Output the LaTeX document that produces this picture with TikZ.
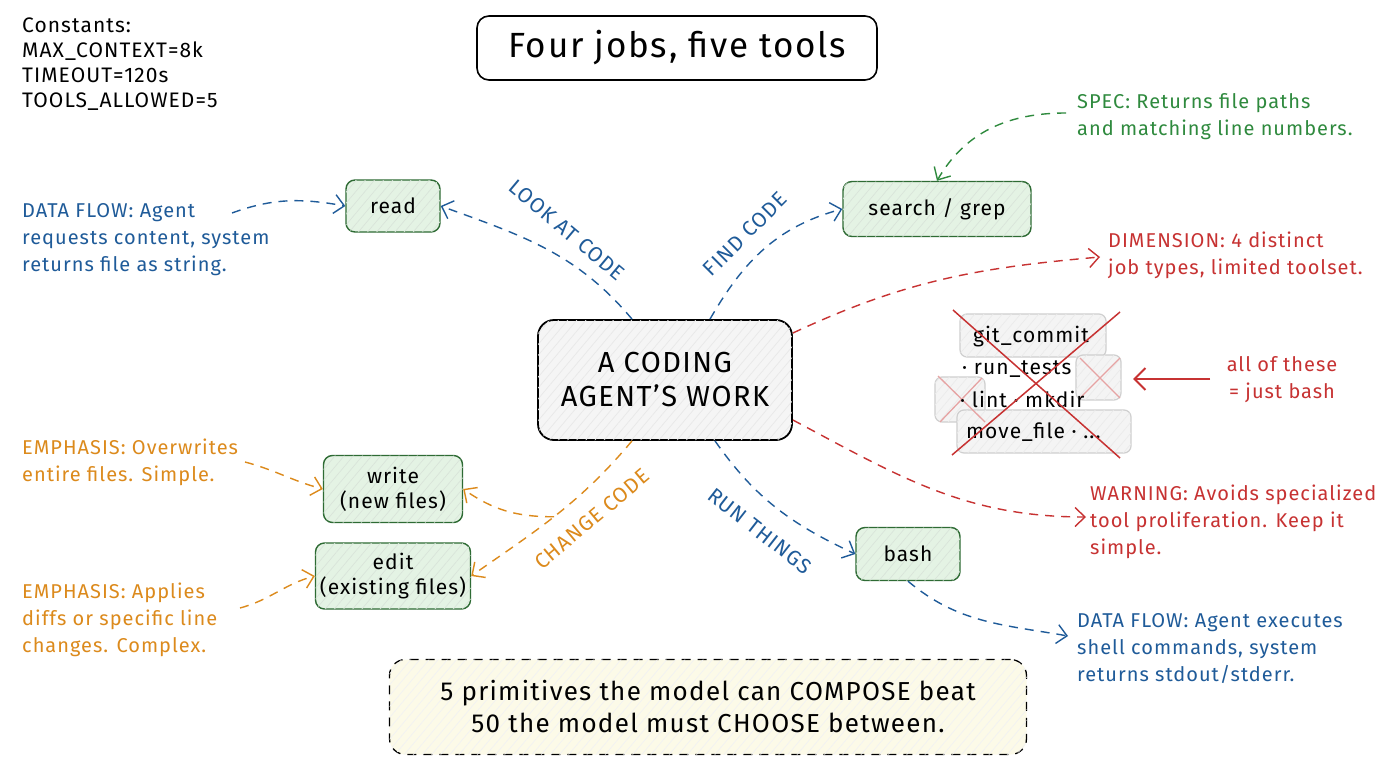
\documentclass[tikz,border=0pt]{standalone}
\usepackage{fontspec}
\setmainfont{Fira Sans}[LetterSpace=5]
\usetikzlibrary{arrows.meta,calc,patterns.meta}
\definecolor{cblue}{HTML}{1F5B99}
\definecolor{cgreen}{HTML}{2F8A3E}
\definecolor{cgreenD}{HTML}{2E6B34}
\definecolor{cgreenF}{HTML}{E4F3E4}
\definecolor{cred}{HTML}{C73232}
\definecolor{corange}{HTML}{DC8A1C}
\definecolor{cgrayB}{HTML}{CFCFCF}
\definecolor{cgrayF}{HTML}{F4F4F4}
\definecolor{cyel}{HTML}{FCFAE8}
\newcommand{\fsz}[2]{\fontsize{#1}{#2}\selectfont}
\tikzset{
  hatch/.style={postaction={pattern={Lines[angle=50,distance=7pt,line width=0.7pt]}, pattern color=#1}},
  tool/.style={draw=cgreenD, fill=cgreenF, line width=1.4pt, rounded corners=9pt,
    align=center, font=\fsz{21}{25}, inner sep=0pt, hatch=cgreenD!18},
  note/.style={align=left, anchor=west, inner sep=0pt, font=\fsz{20}{27}},
  dsh/.style={dash pattern=on 9pt off 7pt},
  conn/.style={dsh, line width=1.4pt, -{Straight Barb[length=10pt,width=19pt]}},
  lab/.style={font=\fsz{21}{24}, inner sep=0pt},
  ghost/.style={draw=cgrayB, fill=cgrayF, line width=1.2pt, rounded corners=7pt, hatch=black!8},
  gtext/.style={font=\fsz{21}{25}, inner sep=0pt, anchor=west},
}
\begin{document}
\begin{tikzpicture}[x=1pt,y=1pt]
\useasboundingbox (0,0) rectangle (1376,-768);
\fill[white] (0,0) rectangle (1376,-768);

% constants
\node[note, font=\fsz{21}{25}] (consts) at (22,-64) {Constants:\\MAX\_CONTEXT=8k\\TIMEOUT=120s\\TOOLS\_ALLOWED=5};

% title
\node[draw, line width=1.6pt, rounded corners=12pt, fill=white, minimum width=400pt,
  minimum height=64pt, font=\fsz{35}{40}] (title) at (677,-48) {Four jobs, five tools};

% core
\node[draw=black, line width=1.8pt, fill=black!4, rounded corners=16pt, minimum width=254pt,
  minimum height=120pt, align=center, font=\fsz{29}{34}, hatch=black!9] (core) at (665,-380) {A CODING\\AGENT'S WORK};

% tools
\node[tool, minimum width=94pt, minimum height=52pt] (read) at (393,-206) {read};
\node[tool, minimum width=188pt, minimum height=55pt] (search) at (937,-209) {search / grep};
\node[tool, minimum width=139pt, minimum height=67pt] (write) at (393,-489) {write\\(new files)};
\node[tool, minimum width=155pt, minimum height=66pt] (edit) at (393,-576) {edit\\(existing files)};
\node[tool, minimum width=104pt, minimum height=53pt] (bash) at (908,-554) {bash};

% crossed-out group
\draw[ghost] (960,-314) rectangle (1106,-357);
\draw[ghost] (1076,-355) rectangle (1121,-400);
\draw[ghost] (935,-377) rectangle (985,-422);
\draw[ghost] (957,-410) rectangle (1131,-453);
\draw[cred!45, line width=1.3pt] (1080,-358) -- (1120,-398) (1120,-358) -- (1080,-398);
\draw[cred!45, line width=1.3pt] (938,-376) -- (985,-422) (982,-378) -- (940,-422);
\node[gtext] (g1) at (973,-337) {git\_commit};
\node[gtext] (g2) at (962,-369) {· run\_tests};
\node[gtext] (g3) at (960,-399) {· lint · mkdir};
\node[gtext] (g4) at (966,-432) {move\_file · ...};
\coordinate (grp) at (1133,-379);
\draw[cred, line width=1.5pt] (953,-310) -- (1120,-458) (1120,-312) -- (952,-455);

% notes
\node[note, text=cblue] (dfread) at (22,-240) {DATA FLOW: Agent\\requests content, system\\returns file as string.};
\node[note, text=cgreen] (spec) at (1077,-117) {SPEC: Returns file paths\\and matching line numbers.};
\node[note, text=cred] (dim) at (1108,-255) {DIMENSION: 4 distinct\\job types, limited toolset.};
\node[note, text=cred] (warn) at (1090,-522) {WARNING: Avoids specialized\\tool proliferation. Keep it\\simple.};
\node[note, text=corange] (emw) at (22,-462) {EMPHASIS: Overwrites\\entire files. Simple.};
\node[note, text=corange] (eme) at (22,-620) {EMPHASIS: Applies\\diffs or specific line\\changes. Complex.};
\node[note, text=cblue] (dfbash) at (1077,-649) {DATA FLOW: Agent executes\\shell commands, system\\returns stdout/stderr.};
\node[note, text=cred, align=center, anchor=center] (allb) at (1282,-380) {all of these\\= just bash};

% bottom box
\node[draw, dsh, line width=1.3pt, rounded corners=16pt, fill=cyel, minimum width=637pt,
  minimum height=95pt, align=center, font=\fsz{26}{32}, hatch=black!5] (moral) at (708,-707)
  {5 primitives the model can COMPOSE beat\\50 the model must CHOOSE between.};

% free ends
\coordinate (dfreadS) at (232,-213);
\coordinate (specS) at (1066,-113);
\coordinate (dimE) at (1100,-257);
\coordinate (warnE) at (1086,-517);
\coordinate (dfbashE) at (1068,-636);
\coordinate (emwS) at (245,-462);
\coordinate (emeS) at (240,-608);
\coordinate (allS) at (1210,-379);

% connectors
\draw[conn, cblue] (dfreadS) to[out=20,in=170] (read.west);
\draw[conn, cgreen] (specS) to[out=180,in=60] (search.north);
\draw[conn, cblue] ($(core.north)+(-33,0)$) to[out=130,in=-20] (read.east);
\draw[conn, cblue] ($(core.north)+(45,0)$) to[out=60,in=195] (search.west);
\draw[conn, cred] ($(core.east)+(0,47)$) to[out=25,in=185] (dimE);
\draw[conn, cred] ($(core.east)+(0,-40)$) to[out=-28,in=180] (warnE);
\draw[conn, corange] ($(core.south)+(-33,0)$) to[out=-130,in=35] coordinate[pos=0.52] (br) (edit.east);
\draw[conn, corange] (br) to[out=180,in=-35] (write.east);
\draw[conn, cblue] ($(core.south)+(50,0)$) to[out=-55,in=155] (bash.west);
\draw[conn, cblue] (bash.south) to[out=-40,in=170] (dfbashE);
\draw[conn, corange] (emwS) to[out=-15,in=165] (write.west);
\draw[conn, corange] (emeS) to[out=15,in=195] (edit.west);
\draw[cred, line width=2pt, -{Straight Barb[length=11pt,width=22pt]}] (allS) -- (grp);

% connector labels
\node[lab, text=cblue, rotate=-40] (lLook) at (567,-230) {LOOK AT CODE};
\node[lab, text=cblue, rotate=45] (lFind) at (745,-234) {FIND CODE};
\node[lab, text=corange, rotate=40] (lChange) at (592,-519) {CHANGE CODE};
\node[lab, text=cblue, rotate=-38] (lRun) at (760,-531) {RUN THINGS};
\end{tikzpicture}
\end{document}
